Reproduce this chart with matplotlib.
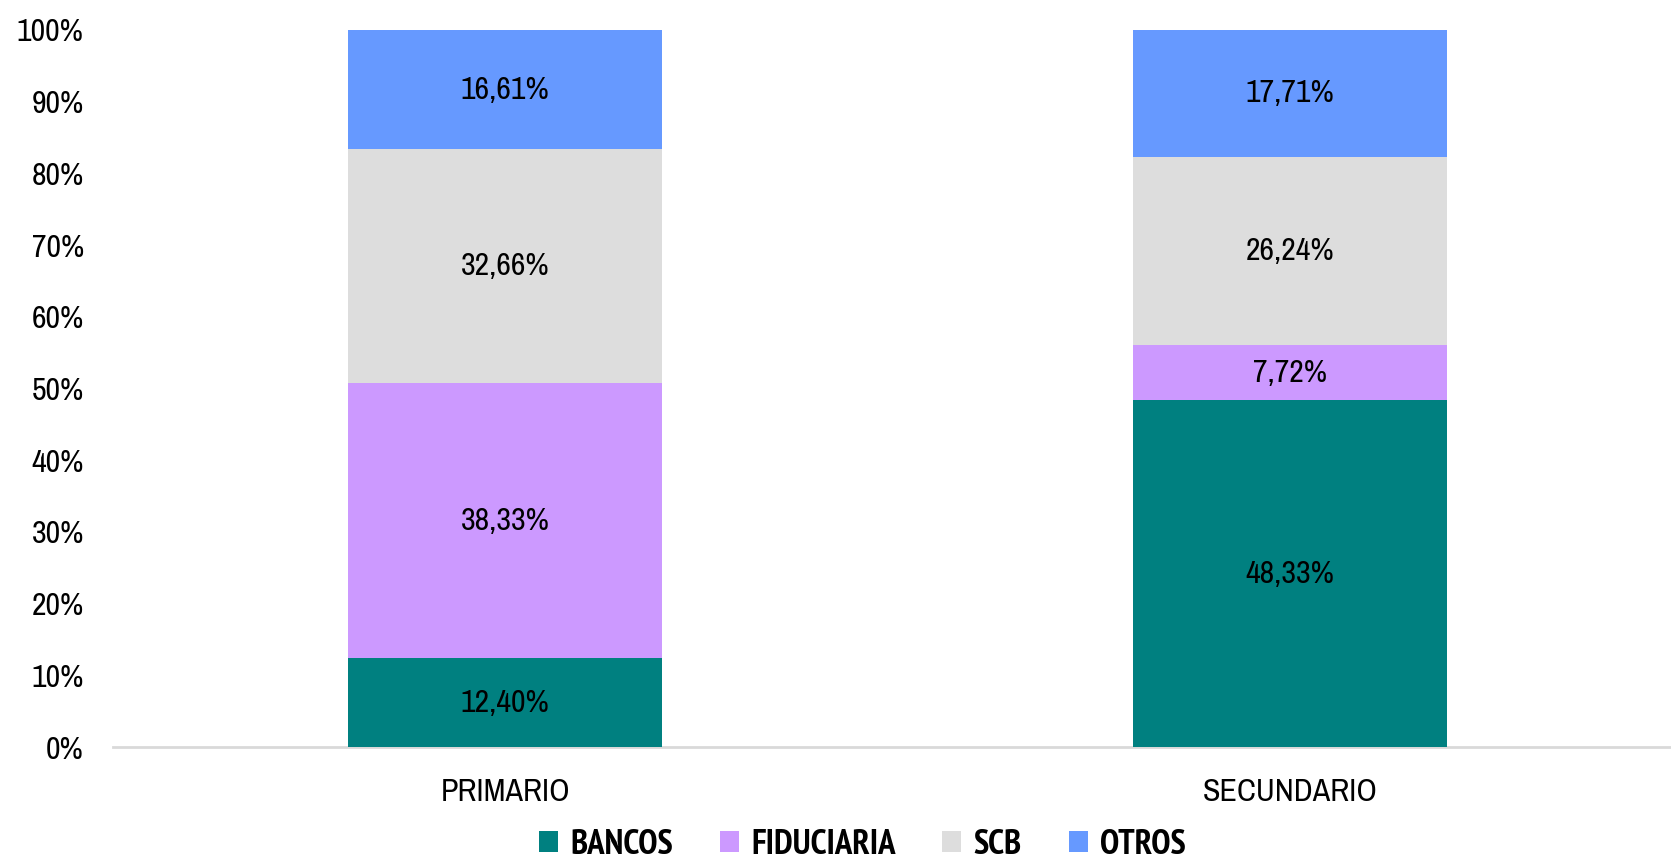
import matplotlib
matplotlib.use("Agg")
import matplotlib.pyplot as plt
from matplotlib import font_manager
from matplotlib.ticker import FuncFormatter

categories = ["PRIMARIO", "SECUNDARIO"]
series_names = ["BANCOS", "FIDUCIARIA", "SCB", "OTROS"]
bancos = [12.40, 48.33]
fiduciaria = [38.33, 7.72]
scb = [32.66, 26.24]
otros = [16.61, 17.71]
colors = ["#008080", "#CC99FF", "#DDDDDD", "#6699FF"]

fl = font_manager.fontManager.ttflist
names = {f.name for f in fl}
bold_names = {f.name for f in fl if isinstance(f.weight, int) and f.weight >= 700 or f.weight == "bold"}
cands = ["Liberation Sans Narrow", "Arial Narrow", "Archivo Narrow", "PT Sans Narrow",
         "Roboto Condensed", "Pragati Narrow", "Sofia Sans Condensed", "Arimo"]
fam = next((c for c in cands if c in names), "Liberation Sans")
bfam = next((c for c in cands if c in bold_names), fam)
plt.rcParams["font.family"] = [fam, "DejaVu Sans"]

FS = 23

fig = plt.figure(figsize=(16.71, 8.61), dpi=100)
ax = fig.add_axes([0.0676, 0.1324, 0.9324, 0.8328])

x = list(range(len(categories)))
bottom = [0.0] * len(categories)
for name, vals, c in zip(series_names, [bancos, fiduciaria, scb, otros], colors):
    ax.bar(x, vals, bottom=bottom, width=0.4, color=c, label=name, zorder=2)
    for xi, b, v in zip(x, bottom, vals):
        ax.text(xi, b + v / 2, f"{v:.2f}%".replace(".", ","), ha="center", va="center",
                fontsize=FS, color="black", zorder=3)
    bottom = [b + v for b, v in zip(bottom, vals)]

ax.set_xlim(-0.5, 1.486)
ax.set_ylim(0, 100)
ax.set_yticks(range(0, 101, 10))
ax.yaxis.set_major_formatter(FuncFormatter(lambda v, p: f"{int(v)}%"))
ax.set_xticks(x)
ax.set_xticklabels(categories)
ax.tick_params(axis="both", length=0, labelsize=FS)
ax.tick_params(axis="y", pad=21)
ax.tick_params(axis="x", pad=22)
for s in ["top", "right", "left"]:
    ax.spines[s].set_visible(False)
ax.spines["bottom"].set_color("#D9D9D9")
ax.spines["bottom"].set_linewidth(2)
ax.spines["bottom"].set_zorder(1)

fig.legend(loc="lower center", bbox_to_anchor=(0.516, -0.036), ncol=4, frameon=False,
           prop={"family": [bfam, "DejaVu Sans"], "weight": "bold", "size": 25},
           handlelength=0.55, handleheight=0.55,
           handletextpad=0.35, columnspacing=1.35)

fig.savefig("out.png", dpi=100)
